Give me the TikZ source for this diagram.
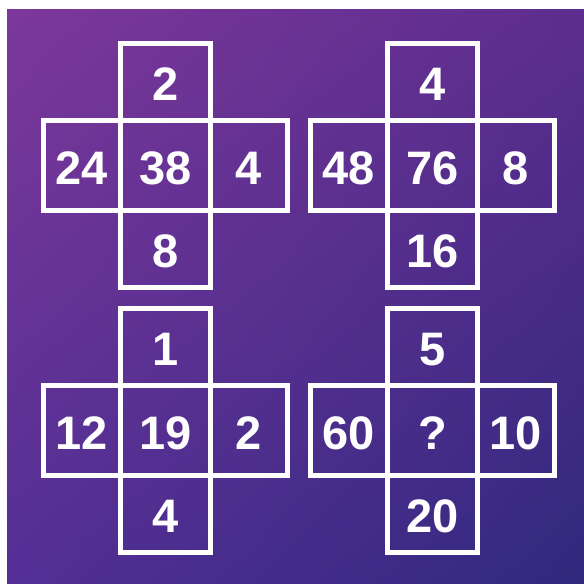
\documentclass[tikz,border=0pt]{standalone}
\usepackage{fontspec}
\setmainfont{Liberation Sans}
\usetikzlibrary{shadings}
\definecolor{bgA}{HTML}{7C389A}
\definecolor{bgB}{HTML}{5C2D8E}
\definecolor{bgC}{HTML}{532F95}
\definecolor{bgD}{HTML}{30297E}
\newcommand\mkcross[8]{%
  \node[cell] (#1c) at (#2,#3) {#6};
  \node[armv,anchor=south] (#1t) at (#1c.north) {#4};
  \node[armh,anchor=east] (#1l) at (#1c.west) {#5};
  \node[armh,anchor=west] (#1r) at (#1c.east) {#7};
  \node[armv,anchor=north] (#1b) at (#1c.south) {#8};
}
\begin{document}
\begin{tikzpicture}[x=1pt,y=-1pt,
  cell/.style={draw=white,line width=5pt,text=white,
    font=\fontsize{47}{47}\selectfont\bfseries,text height=37pt,text depth=0pt,
    inner sep=0pt,outer sep=0pt,minimum width=90pt,minimum height=90pt},
  armh/.style={cell,minimum width=77pt,minimum height=90pt},
  armv/.style={cell,minimum width=90pt,minimum height=77pt}]
\useasboundingbox (0,0) rectangle (584,584);
\fill[white] (0,0) rectangle (584,584);
\shade[upper left=bgA,upper right=bgB,lower left=bgC,lower right=bgD] (7,9) rectangle (584,584);
\mkcross{a}{165.5}{165.5}{2}{24}{38}{4}{8}
\mkcross{b}{432.5}{165.5}{4}{48}{76}{8}{16}
\mkcross{d}{165.5}{430.5}{1}{12}{19}{2}{4}
\mkcross{e}{432.5}{430.5}{5}{60}{?}{10}{20}
\end{tikzpicture}
\end{document}
